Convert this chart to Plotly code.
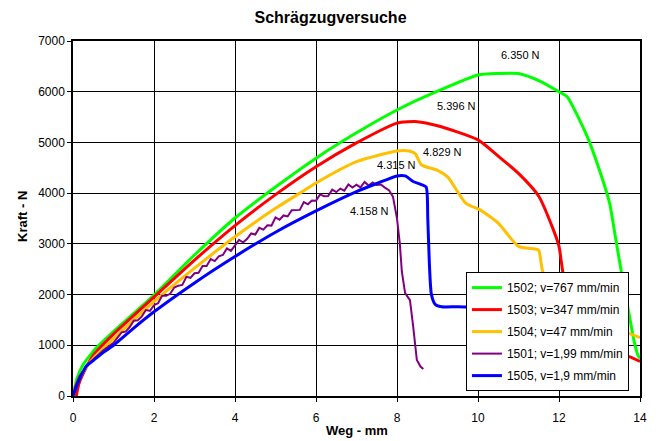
import plotly.graph_objects as go

# Diagonal tension tests: force vs. displacement
x_1502 = [0, 0.1, 0.25, 0.5, 0.6, 1.0, 2.0, 3.0, 4.0, 5.0, 6.0, 7.0, 8.0, 9.0, 10.0, 10.5, 11.0,
          11.5, 12.0, 12.2, 12.7, 13.0, 13.25, 13.4, 13.55, 13.7, 13.85, 13.95, 14.0]
y_1502 = [0, 350, 620, 880, 970, 1270, 1990, 2780, 3510, 4120, 4690, 5190, 5640, 6010, 6330, 6360, 6360,
          6220, 6000, 5900, 5110, 4450, 3800, 3100, 2400, 1750, 1100, 800, 740]

x_1503 = [0.08, 0.15, 0.3, 0.5, 1.0, 2.0, 3.0, 4.0, 5.0, 6.0, 7.0, 8.0, 8.5, 9.0, 10.0, 10.5, 11.0,
          11.5, 11.85, 12.0, 12.1, 12.3, 12.6, 13.0, 13.5, 13.75, 14.0]
y_1503 = [0, 250, 520, 800, 1220, 1950, 2680, 3360, 3970, 4520, 4990, 5380, 5410, 5330, 5050, 4730, 4390,
          3940, 3300, 2950, 2420, 1800, 1300, 1000, 820, 770, 680]

x_1504 = [0, 0.1, 0.3, 0.5, 1.0, 2.0, 3.0, 4.0, 5.0, 5.6, 6.0, 7.0, 8.0, 8.3, 8.45, 8.6, 9.0, 9.25,
          9.7, 10.05, 10.5, 11.0, 11.4, 11.5, 11.6, 12.0, 12.5, 13.0, 13.7, 14.0]
y_1504 = [0, 250, 540, 740, 1130, 1860, 2520, 3140, 3700, 4000, 4200, 4620, 4830, 4830, 4780, 4560, 4450,
          4320, 3800, 3670, 3410, 2950, 2900, 2870, 2450, 1900, 1500, 1300, 1240, 1150]

x_1501 = [0, 0.05, 0.15, 0.3, 0.5, 0.75,
          1.0, 1.1, 1.2, 1.3, 1.4, 1.5, 1.6, 1.7, 1.8, 1.9, 2.0, 2.1, 2.2, 2.3, 2.4, 2.5, 2.6, 2.7,
          2.8, 2.9, 3.0, 3.1, 3.2, 3.3, 3.4, 3.5, 3.6, 3.7, 3.8, 3.9, 4.0, 4.1, 4.2, 4.3, 4.4, 4.5,
          4.6, 4.7, 4.8, 4.9, 5.0, 5.1, 5.2, 5.3, 5.4, 5.5, 5.6, 5.7, 5.8, 5.9, 6.0, 6.1, 6.2, 6.3,
          6.4, 6.5, 6.6, 6.7, 6.8, 6.9, 7.0, 7.1, 7.2, 7.3, 7.4, 7.5, 7.6, 7.7,
          7.8, 7.9, 8.0, 8.07, 8.12, 8.2, 8.32, 8.4, 8.49, 8.58, 8.65]
y_1501 = [0, 180, 380, 560, 720, 900,
          1050, 1145, 1255, 1270, 1360, 1485, 1495, 1570, 1695, 1680, 1790, 1830, 1975, 1975, 2015, 2140, 2175, 2190,
          2350, 2330, 2420, 2430, 2565, 2565, 2700, 2660, 2755, 2780, 2910, 2860, 2970, 3080, 3025, 3100, 3205, 3185,
          3315, 3280, 3365, 3360, 3520, 3475, 3560, 3540, 3665, 3665, 3670, 3825, 3780, 3855, 3850, 3975, 3940, 3945,
          4070, 4020, 4090, 4050, 4170, 4110, 4165, 4115, 4220, 4150, 4210, 4160, 4170, 4110,
          4060, 3930, 3500, 3000, 2450, 2030, 1890, 1370, 710, 580, 530]

x_1505 = [0, 0.13, 0.25, 0.34, 0.5, 0.75, 1.0, 1.5, 2.0, 3.0, 4.0, 5.0, 6.0, 7.0, 7.5, 8.0, 8.2, 8.4,
          8.6, 8.72, 8.76, 8.8, 8.85, 8.95, 9.1, 9.5, 10.0]
y_1505 = [0, 280, 480, 600, 700, 860, 1000, 1340, 1660, 2230, 2750, 3230, 3650, 4030, 4190, 4340, 4340, 4230,
          4170, 4120, 3500, 2600, 2000, 1800, 1760, 1760, 1750]

series = [
    ("1502; v=767 mm/min", x_1502, y_1502, "#00ff00", 3, "spline"),
    ("1503; v=347 mm/min", x_1503, y_1503, "#ff0000", 3, "spline"),
    ("1504; v=47 mm/min", x_1504, y_1504, "#ffc000", 3, "spline"),
    ("1501; v=1,99 mm/min", x_1501, y_1501, "#800080", 2, "linear"),
    ("1505, v=1,9 mm/min", x_1505, y_1505, "#0000ff", 3, "spline"),
]

# Peak force labels: (x, y, text)
peak_x = [11.04, 9.46, 9.13, 7.98, 7.31]
peak_y = [6720, 5720, 4810, 4550, 3650]
peak_text = ["6.350 N", "5.396 N", "4.829 N", "4.315 N", "4.158 N"]

FONT = "Liberation Sans, Arial, sans-serif"

fig = go.Figure()
for i, (name, xs, ys, color, w, shape) in enumerate(series):
    line = dict(color=color, width=w, shape=shape)
    if shape == "spline":
        line["smoothing"] = 0.6
    fig.add_trace(go.Scatter(x=xs, y=ys, mode="lines", name=name,
                             legendgroup=f"g{i}", line=line))

for px, py, t in zip(peak_x, peak_y, peak_text):
    fig.add_annotation(x=px, y=py, text=t, showarrow=False,
                       font=dict(family=FONT, size=11, color="black"))

# Axis titles placed in pixel-based paper coordinates
fig.add_annotation(text="<b>Weg - mm</b>", xref="paper", yref="paper",
                   x=(357 - 73) / 567, y=-(430 - 396) / 355,
                   xanchor="center", yanchor="middle", showarrow=False,
                   font=dict(family=FONT, size=13, color="black"))
fig.add_annotation(text="<b>Kraft - N</b>", xref="paper", yref="paper",
                   x=-(73 - 22) / 567, y=(396 - 217) / 355, textangle=-90,
                   xanchor="center", yanchor="middle", showarrow=False,
                   font=dict(family=FONT, size=13, color="black"))

axis_common = dict(
    showgrid=True, gridcolor="#000000", gridwidth=1,
    showline=True, linecolor="#000000", linewidth=1.5, mirror=True,
    ticks="outside", ticklen=4, tickcolor="#000000",
    tickfont=dict(family=FONT, size=12, color="#000000"),
    zeroline=False, automargin=False,
)

fig.update_layout(
    width=661, height=441,
    margin=dict(l=73, r=21, t=41, b=45),
    paper_bgcolor="white", plot_bgcolor="white",
    title=dict(text="<b>Schrägzugversuche</b>", x=0.5, xanchor="center",
               y=0.96, yanchor="middle",
               font=dict(family=FONT, size=16, color="black")),
    xaxis=dict(range=[0, 14], dtick=2, ticklabelstandoff=6, **axis_common),
    yaxis=dict(range=[0, 7000], dtick=1000, **axis_common),
    legend=dict(x=0.693, y=0.349, xanchor="left", yanchor="top",
                bgcolor="white", bordercolor="black", borderwidth=1,
                font=dict(family=FONT, size=12, color="black"),
                traceorder="grouped", tracegroupgap=3),
    showlegend=True,
)

fig.write_html("out.html")
